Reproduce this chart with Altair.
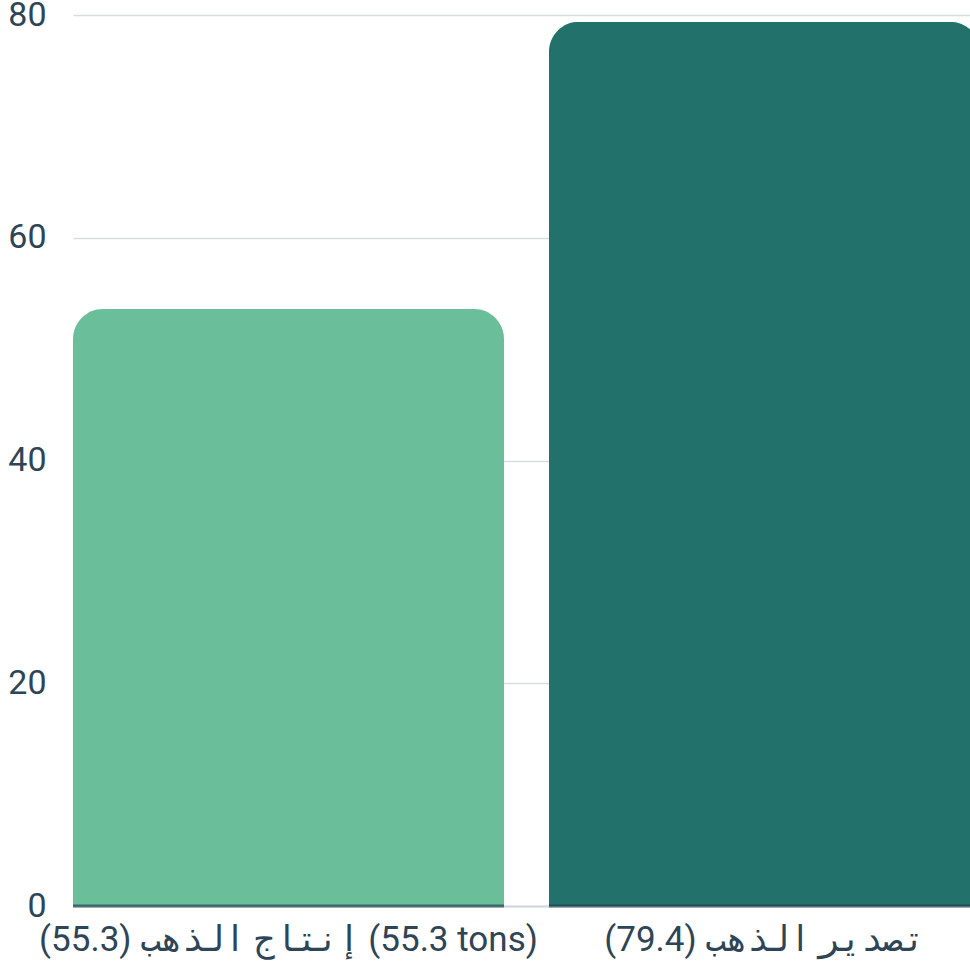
import altair as alt
import pandas as pd

# data
labels = ["إنتاج الذهب (55.3) (55.3 tons)", "تصدير الذهب (79.4)"]
values = [53.6, 79.4]
colors = ["#6abf9a", "#22716b"]
y_ticks = [0, 20, 40, 60, 80]

df = pd.DataFrame({"label": labels, "value": values, "color": colors})

FONT = "Roboto, 'DejaVu Sans Mono'"
TEXT = "#2e4557"

x_enc = alt.X(
    "label:N",
    sort=None,
    title=None,
    scale=alt.Scale(range=[0, 907], paddingInner=0.0945, paddingOuter=0),
    axis=alt.Axis(
        labelAngle=0,
        labelFont=FONT,
        labelFontSize=35,
        labelColor=TEXT,
        labelPadding=16,
        ticks=False,
        domain=True,
        domainColor="#cfd8de",
        domainWidth=2,
        grid=False,
        labelLimit=700,
    ),
)

y_scale = alt.Scale(domain=[0, 80], nice=False)

bars = alt.Chart(df).mark_bar(
    cornerRadiusTopLeft=30, cornerRadiusTopRight=30
).encode(
    x=x_enc,
    y=alt.Y(
        "value:Q",
        scale=y_scale,
        title=None,
        axis=alt.Axis(
            values=y_ticks,
            labelFont=FONT,
            labelFontSize=34,
            labelColor=TEXT,
            labelPadding=27,
            ticks=False,
            domain=False,
            grid=True,
            gridColor="#d6dde2",
            gridWidth=1.5,
        ),
    ),
    color=alt.Color("color:N", scale=None, legend=None),
)

base_line = alt.Chart(df).mark_tick(
    thickness=3, size=431, color="#1f4150"
).encode(
    x=alt.X("label:N", sort=None),
    y=alt.datum(0, scale=y_scale),
)

chart = (
    alt.layer(bars, base_line)
    .properties(
        width=897,
        height=891,
        autosize=alt.AutoSizeParams(type="none"),
        padding={"left": 73, "top": 15, "right": 0, "bottom": 60},
    )
    .configure_view(stroke=None)
)

chart.save("out.html", embed_options={"renderer": "svg", "actions": False})
